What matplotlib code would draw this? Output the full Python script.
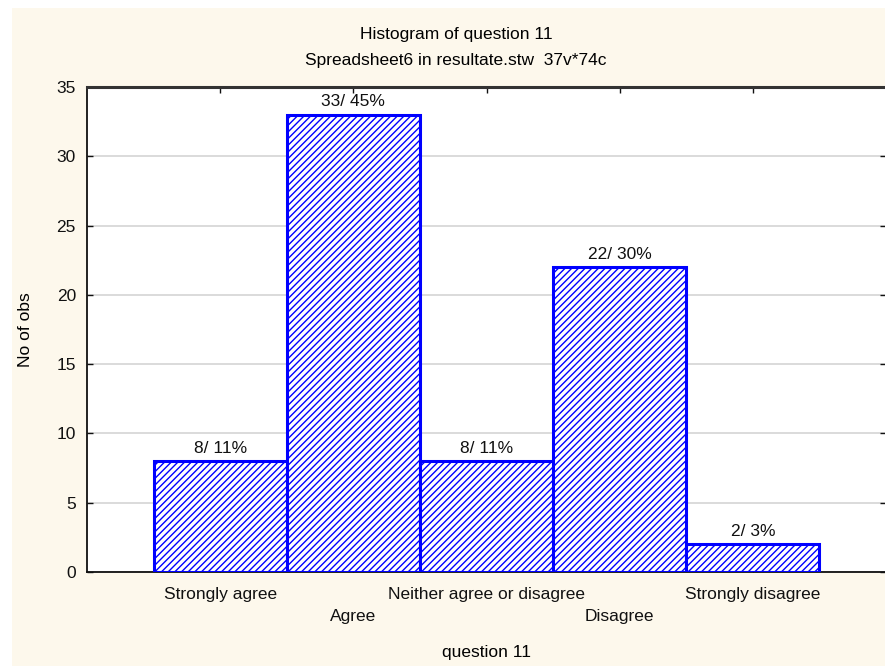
import matplotlib
matplotlib.use('Agg')
from matplotlib import pyplot as plt
from matplotlib.patches import Rectangle

# Datos del histograma
categories = ["Strongly agree", "Agree", "Neither agree or disagree", "Disagree", "Strongly disagree"]
counts = [8, 33, 8, 22, 2]
percents = [11, 45, 11, 30, 3]

plt.rcParams['font.family'] = ['Liberation Sans', 'DejaVu Sans']
plt.rcParams['hatch.color'] = '#0000FF'
plt.rcParams['hatch.linewidth'] = 1.0

W, H = 885, 666
fs = 12.5
fig = plt.figure(figsize=(W / 100, H / 100), dpi=100)
fig.patch.set_facecolor('white')
# fondo crema con borde blanco arriba e izquierda
fondo = Rectangle((12 / W, 0), 1, 1 - 8 / H, transform=fig.transFigure,
                  facecolor='#FDF8EC', edgecolor='none', zorder=-10)
fig.add_artist(fondo)

aw = 886 - 87
ah = 572 - 87
ax = fig.add_axes([87 / W, (H - 572) / H, aw / W, ah / H])
ax.set_facecolor('white')

x = list(range(len(categories)))
ax.bar(x, counts, width=1.0, color='white', edgecolor='#0000FF', linewidth=2.2,
       hatch='/////', zorder=3)

for xi, c, p in zip(x, counts, percents):
    ax.text(xi, c + 0.4, f"{c}/ {p}%", ha='center', va='bottom', fontsize=fs,
            color='#111111', zorder=4)

ax.set_xlim(-1, 5)
ax.set_ylim(0, 35)
ax.set_yticks(range(0, 36, 5))
ax.set_xticks(x)
labels = [c if i % 2 == 0 else "\n" + c for i, c in enumerate(categories)]
ax.set_xticklabels(labels, fontsize=fs, linespacing=1.6)
ax.tick_params(axis='both', direction='in', length=4, width=1, labelsize=fs,
               top=True, right=True, pad=11, colors='#111111')
ax.tick_params(axis='y', pad=8)

ax.yaxis.grid(True, color='#D4D4D4', linewidth=1.2, zorder=0)
ax.set_axisbelow(True)
for s in ['left', 'bottom']:
    ax.spines[s].set_linewidth(1.3)
    ax.spines[s].set_color('#111111')
ax.spines['top'].set_linewidth(2.2)
ax.spines['top'].set_color('#333333')
ax.spines['right'].set_visible(False)

ax.set_ylabel("No of obs", fontsize=fs)
ax.yaxis.set_label_coords((33 - 87) / aw, 0.5)
ax.set_xlabel("question 11", fontsize=fs)
ax.xaxis.set_label_coords(0.5, -(645 - 572) / ah)

fig.text(456 / W, 1 - 34 / H, "Histogram of question 11", ha='center', va='center', fontsize=fs)
fig.text(456 / W, 1 - 61 / H, "Spreadsheet6 in resultate.stw  37v*74c", ha='center', va='center', fontsize=fs)

fig.savefig('out.png', dpi=100, facecolor=fig.get_facecolor())
